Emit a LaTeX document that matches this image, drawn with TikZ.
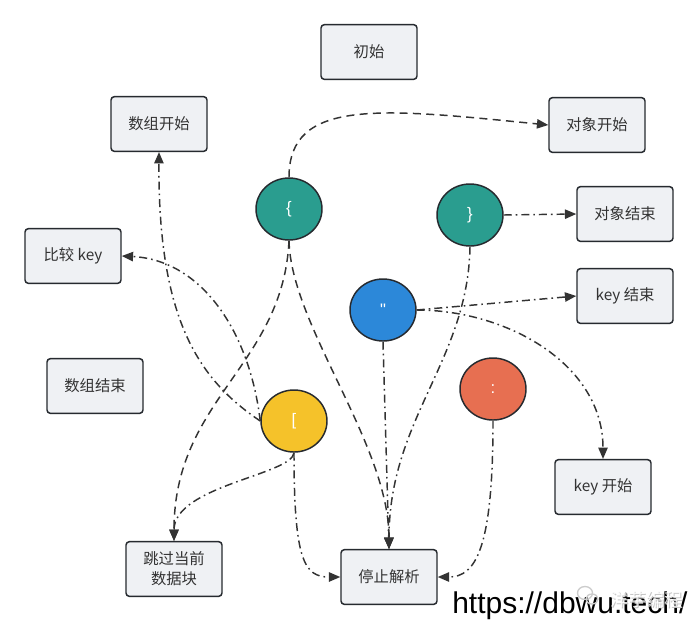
\documentclass[tikz,border=0pt]{standalone}
\usepackage{fontspec}
\setmainfont{Liberation Sans}
\newfontfamily\cjk{Noto Sans CJK SC}
\newfontfamily\tokfont{Liberation Sans}[Ligatures=TeXOff]
\usetikzlibrary{arrows.meta,shapes.geometric}

\definecolor{boxfill}{HTML}{EFF1F4}
\definecolor{boxline}{HTML}{262A2F}
\definecolor{textgray}{HTML}{333333}
\definecolor{linegray}{HTML}{333333}
\definecolor{tealc}{HTML}{2A9D8F}
\definecolor{bluec}{HTML}{2C88D9}
\definecolor{orangec}{HTML}{E76F51}
\definecolor{yellowc}{HTML}{F5C22A}

\begin{document}
\begin{tikzpicture}[x=0.75pt,y=-0.75pt,
  box/.style={draw=boxline, fill=boxfill, rounded corners=2.5pt, line width=1.1pt,
    minimum width=72pt, minimum height=41pt, inner sep=0pt,
    font=\cjk\fontsize{11.5}{15}\selectfont, text=textgray, align=center},
  token/.style={ellipse, draw=boxline, line width=1.1pt, minimum width=49.5pt,
    minimum height=46.5pt, inner sep=0pt, text=white, font=\tokfont\fontsize{12.5}{14}\selectfont},
  link/.style={draw=linegray, line width=1.1pt, -{Triangle[length=8.5pt,width=7pt]}},
  dashline/.style={link, dash pattern=on 6pt off 4pt},
  dotline/.style={link, dash pattern=on 6pt off 3pt on 1.2pt off 3pt},
]
\useasboundingbox (0,0) rectangle (698,629);
\fill[white] (0,0) rectangle (698,629);

% state boxes
\node[box] (init)     at (369,52)  {初始};
\node[box] (arrstart) at (159,124) {数组开始};
\node[box] (objstart) at (597,125) {对象开始};
\node[box] (cmpkey)   at (73,256)  {比较 key};
\node[box] (objend)   at (625,214) {对象结束};
\node[box] (keyend)   at (625,296) {key 结束};
\node[box] (arrend)   at (95,386)  {数组结束};
\node[box] (keystart) at (603,487) {key 开始};
\node[box] (skip)     at (174,569) {跳过当前\\数据块};
\node[box] (stop)     at (389,577) {停止解析};

% token circles
\node[token, fill=tealc]   (lbrace) at (289,209) {\{};
\node[token, fill=tealc]   (rbrace) at (470,215) {\}};
\node[token, fill=bluec]   (quote)  at (383,310) {\char"22};
\node[token, fill=orangec] (colon)  at (493,389) {:};
\node[token, fill=yellowc] (lbrack) at (294,421) {[};

% transitions from {
\draw[dashline] (lbrace.north) .. controls +(0,-79) and +(-169,-17) .. (objstart.west);
\draw[dashline] (lbrace.south) .. controls +(-6,125) and +(0,-142) .. (skip.north);
\draw[dashline] (lbrace.south) .. controls +(2,85) and +(0,-105) .. (stop.north);

% transitions from }
\draw[dotline] (rbrace.east) -- (objend.west);
\draw[dotline] (rbrace.south) .. controls +(-2,114) and +(0,-130) .. (stop.north);

% transitions from "
\draw[dotline] (quote.east) -- (keyend.west);
\draw[dotline] (quote.east) .. controls +(90,0) and +(0,-95) .. (keystart.north);
\draw[dotline] (quote.south) -- (stop.north);

% transition from :
\draw[dotline] (colon.south) .. controls +(0,128) and +(38,0) .. (stop.east);

% transitions from [
\draw[dotline] (lbrack.west) .. controls +(-61,-41) and +(-1,168) .. (arrstart.south);
\draw[dotline] (lbrack.west) .. controls +(-11,-91) and +(79,4) .. (cmpkey.east);
\draw[dotline] (lbrack.south) .. controls +(-2,22) and +(0,-55) .. (skip.north);
\draw[dotline] (lbrack.south) .. controls +(0,108) and +(-36,0) .. (stop.west);

% site watermark
\node[anchor=base west, inner sep=0pt, font=\fontsize{22.5}{26}\selectfont] (url) at (452,613) {https://dbwu.tech/};
\begin{scope}[draw=gray!40, line width=1pt]
  \draw (585,593) ellipse [x radius=7.5, y radius=6.5];
  \draw (592,599) ellipse [x radius=6, y radius=5];
\end{scope}
\node[anchor=base west, inner sep=0pt, text=gray!45, font=\cjk\fontsize{13.5}{16}\selectfont] (markshadow) at (611,607) {洋芋编程};
\node[anchor=base west, inner sep=0pt, text=white, opacity=0.85, font=\cjk\fontsize{13.5}{16}\selectfont] (mark) at (610,606) {洋芋编程};
\end{tikzpicture}
\end{document}
